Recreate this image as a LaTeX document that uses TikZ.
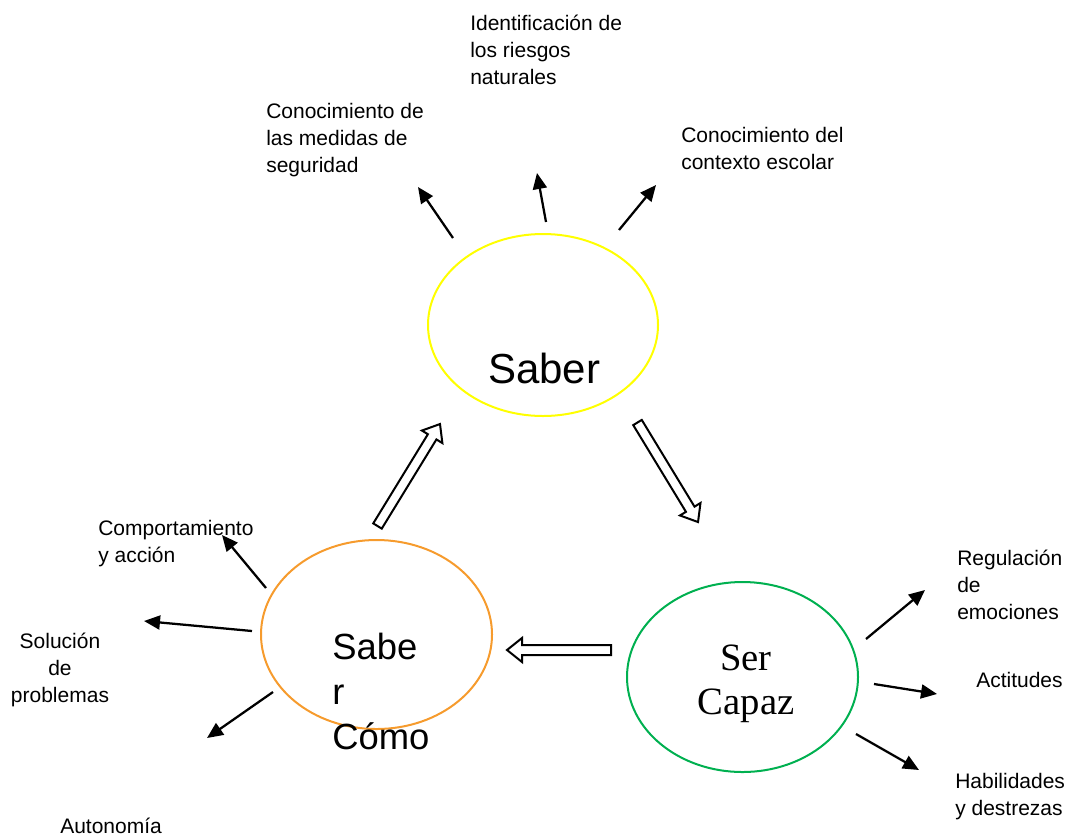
\documentclass[tikz,border=0pt]{standalone}
\usepackage{fontspec}
\setmainfont{Liberation Sans}
\newfontfamily\serifface{Liberation Serif}
\usetikzlibrary{arrows.meta,shapes.geometric}
\definecolor{ylw}{RGB}{255,255,0}
\definecolor{org}{RGB}{246,155,45}
\definecolor{grn}{RGB}{0,176,80}
\newcommand{\fls}{\rule{0pt}{15pt}}
\tikzset{
  oval/.style={ellipse, draw, line width=1.5pt, inner sep=0pt},
  lbl/.style={inner sep=0pt, font=\fontsize{15.75}{20.25}\selectfont, align=left, anchor=north west},
  thinarrow/.style={line width=1.7pt, -{Triangle[length=12pt,width=10.5pt]}},
  hollowarrow/.style={line width=1.5pt, draw=black, fill=white, line join=miter},
  pics/harrow/.style={code={
    \draw[hollowarrow] (0,-5) -- ({#1-15},-5) -- ({#1-15},-12) -- (#1,0) -- ({#1-15},12) -- ({#1-15},5) -- (0,5) -- cycle;}}
}
\begin{document}
\begin{tikzpicture}[x=0.75pt,y=-0.75pt]
\useasboundingbox (0,0) rectangle (1069,836);

% ellipses
\node[oval, draw=ylw, minimum width=172.5pt, minimum height=136.5pt] (saber) at (543,325) {};
\node[oval, draw=org, minimum width=173.25pt, minimum height=141.75pt] (sabercomo) at (376.5,634.5) {};
\node[oval, draw=grn, minimum width=173.25pt, minimum height=142.5pt] (sercapaz) at (742.5,677) {};

% main texts
\node[inner sep=0pt, anchor=base west, font=\fontsize{31.5}{36}\selectfont] (tsaber) at (488,383) {Saber};
\node[inner sep=0pt, anchor=north west, align=left, font=\fontsize{27.3}{33.75}\selectfont] (tcomo) at (332,623) {\rule{0pt}{27pt}Sabe\\r\\Cómo};
\node[inner sep=0pt, anchor=north, align=center, font=\serifface\fontsize{29}{33}\selectfont] (tser) at (746,632) {\rule{0pt}{29pt}Ser\\Capaz};

% hollow arrows
\pic[rotate=58.5] at (377.5,526) {harrow=119.6};
\pic[rotate=-58.7] at (637.5,422.5) {harrow=116.5};
\pic[rotate=180] at (611,650) {harrow=104};

% small labels
\node[lbl] (t1) at (470,10) {\fls Identificación de\\los riesgos\\naturales};
\node[lbl] (t2) at (266,98) {\fls Conocimiento de\\las medidas de\\seguridad};
\node[lbl] (t3) at (681,122) {\fls Conocimiento del\\contexto escolar};
\node[lbl] (t4) at (98,515) {\fls Comportamiento\\y acción};
\node[lbl, align=center, anchor=north] (t5) at (60,628) {\fls Solución\\de\\problemas};
\node[lbl] (t6) at (60,813) {\fls Autonomía};
\node[lbl] (t7) at (957,545) {\fls Regulación\\de\\emociones};
\node[lbl] (t8) at (976,667) {\fls Actitudes};
\node[lbl] (t9) at (955,768) {\fls Habilidades\\y destrezas};

% thin arrow coordinates
\coordinate (a1s) at (453,238); \coordinate (a1e) at (418,187);
\coordinate (a2s) at (546,222); \coordinate (a2e) at (537,173);
\coordinate (a3s) at (619,230); \coordinate (a3e) at (656,185);
\coordinate (b1s) at (266,588); \coordinate (b1e) at (222,535);
\coordinate (b2s) at (252,631); \coordinate (b2e) at (144,621);
\coordinate (b3s) at (273,692); \coordinate (b3e) at (207,738);
\coordinate (c1s) at (866,639); \coordinate (c1e) at (925,590);
\coordinate (c2s) at (874,684); \coordinate (c2e) at (937,694);
\coordinate (c3s) at (856,734); \coordinate (c3e) at (919,770);

\draw[thinarrow] (a1s) -- (a1e);
\draw[thinarrow] (a2s) -- (a2e);
\draw[thinarrow] (a3s) -- (a3e);
\draw[thinarrow] (b1s) -- (b1e);
\draw[thinarrow] (b2s) -- (b2e);
\draw[thinarrow] (b3s) -- (b3e);
\draw[thinarrow] (c1s) -- (c1e);
\draw[thinarrow] (c2s) -- (c2e);
\draw[thinarrow] (c3s) -- (c3e);
\end{tikzpicture}
\end{document}
